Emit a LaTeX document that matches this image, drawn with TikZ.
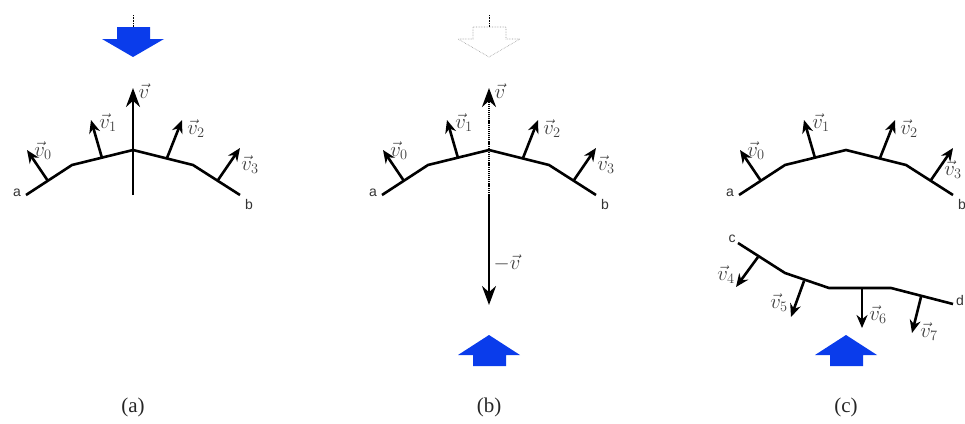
\documentclass[tikz,border=0pt]{standalone}
\usepackage{fontspec}
\setmainfont{Liberation Serif}
\newfontfamily\labelfont{Liberation Sans}
\usepackage{amsmath}
\usepackage{xcolor}
\usetikzlibrary{arrows.meta}
\definecolor{flowblue}{RGB}{10,60,235}
\definecolor{ghostgray}{RGB}{150,150,150}

\newcommand{\topcurve}[1]{
  \coordinate (a) at (26,195);
  \coordinate (p1) at (72,165);
  \coordinate (p2) at (133,150);
  \coordinate (p3) at (193,165);
  \coordinate (b) at (240,195);
  \draw[curve] (a) -- (p1) -- (p2) -- (p3) -- (b);
  \coordinate (f0) at (48,181);
  \coordinate (t0) at (27,150);
  \coordinate (f1) at (102,158);
  \coordinate (t1) at (91,120);
  \coordinate (f2) at (167,158);
  \coordinate (t2) at (182,120);
  \coordinate (f3) at (218,180);
  \coordinate (t3) at (240,148);
  \draw[vecarrow] (f0) -- (t0);
  \draw[vecarrow] (f1) -- (t1);
  \draw[vecarrow] (f2) -- (t2);
  \draw[vecarrow] (f3) -- (t3);
  \node[veclabel] (v0) at (43,151) {$\vec{v}_0$};
  \node[veclabel] (v1) at (108,123) {$\vec{v}_1$};
  \node[veclabel] (v2) at (196,129) {$\vec{v}_2$};
  \node[veclabel] (v3) at (#1) {$\vec{v}_3$};
  \node[endlabel] (la) at (17,193) {a};
  \node[endlabel] (lb) at (249,204) {b};
}
\newcommand{\upblock}[1]{
  \fill[flowblue, shift={(#1,0)}] (0,335) -- (31,355) -- (17,355) -- (17,366) -- (-16,366) -- (-16,355) -- (-31,355) -- cycle;
}

\begin{document}
\begin{tikzpicture}[
    x=1pt, y=-1pt,
    curve/.style={line width=2.6pt, line join=round},
    vecarrow/.style={-{Stealth[length=13pt,width=11pt]}, line width=2.6pt},
    mainarrow/.style={-{Stealth[length=19pt,width=14pt]}, line width=2.6pt},
    veclabel/.style={inner sep=0pt, text=black!75, font=\fontsize{21}{22}\selectfont},
    endlabel/.style={inner sep=0pt, text=black!80, font=\fontsize{14}{15}\labelfont},
    caption/.style={inner sep=0pt, text=black!85, font=\fontsize{21}{22}\selectfont}
]
\useasboundingbox (0,0) rectangle (965,423);

% panel a
\begin{scope}[name prefix=a-]
\topcurve{250,165}
\coordinate (base) at (133,195);
\coordinate (tip) at (133,88);
\draw[mainarrow] (base) -- (tip);
\node[veclabel] (v) at (144,91) {$\vec{v}$};
\fill[flowblue] (117,27) -- (150,27) -- (150,39) -- (164,39) -- (133,57) -- (102,39) -- (117,39) -- cycle;
\coordinate (s0) at (133,15);
\coordinate (s1) at (133,27);
\draw[densely dotted, line width=0.6pt] (s0) -- (s1);
\node[caption] (cap) at (133,407) {(a)};
\end{scope}

% panel b
\begin{scope}[shift={(356,0)}, name prefix=b-]
\topcurve{250,165}
\coordinate (base) at (133,195);
\coordinate (tip) at (133,88);
\coordinate (down) at (133,305);
\draw[mainarrow, dash pattern=on 1.2pt off 0.9pt] (base) -- (tip);
\draw[mainarrow] (base) -- (down);
\node[veclabel] (v) at (144,91) {$\vec{v}$};
\node[veclabel] (mv) at (151,263) {$-\vec{v}$};
\draw[ghostgray, densely dotted, line width=0.6pt] (117,27) -- (150,27) -- (150,39) -- (164,39) -- (133,57) -- (102,39) -- (117,39) -- cycle;
\coordinate (s0) at (133,15);
\coordinate (s1) at (133,27);
\draw[densely dotted, line width=0.6pt] (s0) -- (s1);
\upblock{133}
\node[caption] (cap) at (133,407) {(b)};
\end{scope}

% panel c
\begin{scope}[shift={(713,0)}, name prefix=c-]
\topcurve{240,170}
\coordinate (c) at (25,243);
\coordinate (q1) at (72,273);
\coordinate (q2) at (116,288);
\coordinate (q3) at (178,288);
\coordinate (d) at (240,304);
\draw[curve] (c) -- (q1) -- (q2) -- (q3) -- (d);
\coordinate (f4) at (45,257);
\coordinate (t4) at (23,287);
\coordinate (f5) at (91,281);
\coordinate (t5) at (78,317);
\coordinate (f6) at (149,288);
\coordinate (t6) at (149,328);
\coordinate (f7) at (208,297);
\coordinate (t7) at (199,333);
\draw[vecarrow] (f4) -- (t4);
\draw[vecarrow] (f5) -- (t5);
\draw[vecarrow] (f6) -- (t6);
\draw[vecarrow] (f7) -- (t7);
\node[veclabel] (v4) at (13,275) {$\vec{v}_4$};
\node[veclabel] (v5) at (66,303) {$\vec{v}_5$};
\node[veclabel] (v6) at (165,315) {$\vec{v}_6$};
\node[veclabel] (v7) at (216,332) {$\vec{v}_7$};
\node[endlabel] (lc) at (19,239) {c};
\node[endlabel] (ld) at (247,300) {d};
\upblock{133}
\node[caption] (cap) at (133,407) {(c)};
\end{scope}
\end{tikzpicture}
\end{document}
